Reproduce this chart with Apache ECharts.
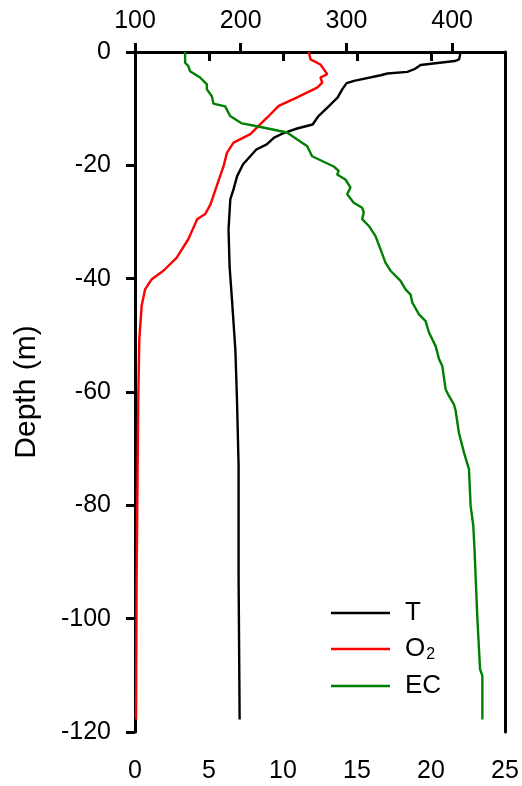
<!DOCTYPE html>
<html>
<head>
<meta charset="utf-8">
<script src="https://cdn.jsdelivr.net/npm/echarts@6/dist/echarts.min.js"></script>
<style>
  html, body { margin: 0; padding: 0; background: #fff; }
  #main { width: 522px; height: 786px; }
</style>
</head>
<body>
<div id="main"></div>
<script>
// temperature profile (bottom axis)
const tDepth = [0, -1.3, -1.6, -2.3, -3.0, -3.5, -3.8, -4.1, -5.1, -5.5, -6.6, -8.0, -9.8, -11.3, -12.8, -13.5, -14.3, -15.1, -16.3, -17.2, -19.8, -21.9, -24.2, -26, -31.3, -37.8, -43.6, -52.5, -61.3, -73, -93, -117.8];
const tVal = [22.0, 21.9, 21.6, 19.3, 18.9, 18.4, 17.05, 16.6, 14.8, 14.3, 14.0, 13.7, 13.0, 12.4, 12.0, 10.95, 10.05, 9.4, 8.9, 8.2, 7.3, 6.9, 6.66, 6.44, 6.32, 6.39, 6.55, 6.78, 6.89, 7.0, 7.0, 7.07];

// oxygen profile (bottom axis)
const oDepth = [0, -1.3, -2.2, -3.9, -4.5, -5.4, -6.3, -8.0, -9.5, -11.6, -13.3, -14.5, -16.0, -17.8, -20.1, -23.6, -26.9, -28.6, -29.5, -33.0, -36.3, -38.6, -40.1, -41.9, -44.8, -50.7, -61.3, -93, -117.8];
const oVal = [11.74, 11.86, 12.53, 12.99, 12.53, 12.65, 12.31, 10.96, 9.71, 8.92, 8.25, 7.79, 6.66, 6.21, 5.99, 5.53, 5.1, 4.74, 4.2, 3.61, 2.82, 1.92, 1.13, 0.68, 0.45, 0.29, 0.22, 0.11, 0.07];

// conductivity profile (top axis)
const ecDepth = [0, -1.9, -2.5, -3.4, -4.5, -5.7, -6.6, -7.8, -9.1, -9.6, -11.3, -12.6, -13.1, -14.2, -16.0, -16.6, -18.4, -20.2, -21.0, -21.6, -22.5, -23.9, -25.1, -26.6, -27.5, -28.3, -29.5, -30.7, -32.5, -34.8, -37.2, -38.6, -40.4, -41.9, -42.8, -44.2, -46.3, -47.5, -49.5, -51.9, -54.2, -55.4, -59.5, -60.7, -62.2, -63.3, -67.2, -70.7, -73.6, -80.1, -83.6, -88.3, -93.0, -100.1, -108.9, -110.1, -117.8];
const ecVal = [147.4, 147.4, 150.5, 152.1, 161.6, 168, 168, 172.7, 174.2, 185.3, 190, 201.1, 215.4, 243.8, 258, 262.8, 267.5, 288, 292.7, 291.2, 299, 303.8, 300.7, 306.9, 314.9, 316.4, 314.9, 321.2, 327.5, 332.2, 337, 341.7, 351.2, 355.9, 360.7, 362.3, 368.6, 374.9, 378.1, 384.4, 387.6, 390.7, 393.8, 397, 401.7, 403.3, 406.4, 411.2, 415.9, 417.5, 420, 421.3, 422.3, 423.9, 426.4, 428.6, 428.6];

const bottomTicks = [0, 5, 10, 15, 20, 25];
const topTicks = [100, 200, 300, 400];

const FONT = 'Liberation Sans, Arial, sans-serif';
const chart = echarts.init(document.getElementById('main'));

function pairs(xs, ds) {
    return xs.map((v, i) => [v, ds[i]]);
}

const axisLine = { lineStyle: { color: '#000', width: 3 } };
const axisTick = { length: 9, lineStyle: { color: '#000', width: 3 } };

chart.setOption({
    animation: false,
    grid: { left: 135, right: 17, top: 52, bottom: 54 },
    legend: {
        orient: 'vertical',
        left: 331,
        top: 600,
        padding: 0,
        icon: 'rect',
        itemWidth: 59,
        itemHeight: 2.5,
        itemGap: 10,
        data: ['T', 'O2', 'EC'],
        formatter: name => name === 'O2' ? 'O{sub|2}' : name,
        textStyle: {
            fontFamily: FONT, fontSize: 26, color: '#000', padding: [0, 0, 0, 10],
            rich: { sub: { fontFamily: FONT, fontSize: 16, color: '#000', verticalAlign: 'bottom', padding: [12, 0, 0, 1] } }
        }
    },
    xAxis: [{
        type: 'value', position: 'bottom', min: 0, max: 25, interval: 5,
        axisLine, axisTick, splitLine: { show: false },
        axisLabel: { fontFamily: FONT, fontSize: 25, color: '#000', margin: 27, customValues: bottomTicks }
    }, {
        type: 'value', position: 'top', min: 100, max: 450,
        axisLine, splitLine: { show: false },
        axisTick: Object.assign({ customValues: topTicks }, axisTick),
        axisLabel: { fontFamily: FONT, fontSize: 25, color: '#000', margin: 18, customValues: topTicks }
    }],
    yAxis: [{
        type: 'value', min: -120, max: 0, interval: 20,
        name: 'Depth (m)', nameLocation: 'middle', nameRotate: 90, nameGap: 93,
        nameTextStyle: { fontFamily: FONT, fontSize: 30, color: '#000' },
        axisLine, axisTick, splitLine: { show: false },
        axisLabel: { fontFamily: FONT, fontSize: 25, color: '#000', margin: 24 }
    }, {
        type: 'value', position: 'right', min: -120, max: 0,
        axisLine: { show: true, lineStyle: { color: '#000', width: 3 } },
        axisTick: { show: false }, axisLabel: { show: false }, splitLine: { show: false }
    }],
    series: [{
        name: 'T', type: 'line', xAxisIndex: 0, yAxisIndex: 0, symbol: 'none',
        lineStyle: { color: '#000', width: 2.4 }, itemStyle: { color: '#000' },
        data: pairs(tVal, tDepth)
    }, {
        name: 'O2', type: 'line', xAxisIndex: 0, yAxisIndex: 0, symbol: 'none',
        lineStyle: { color: '#ff0000', width: 2.4 }, itemStyle: { color: '#ff0000' },
        data: pairs(oVal, oDepth)
    }, {
        name: 'EC', type: 'line', xAxisIndex: 1, yAxisIndex: 0, symbol: 'none',
        lineStyle: { color: '#008000', width: 2.4 }, itemStyle: { color: '#008000' },
        data: pairs(ecVal, ecDepth)
    }]
});
</script>
</body>
</html>
